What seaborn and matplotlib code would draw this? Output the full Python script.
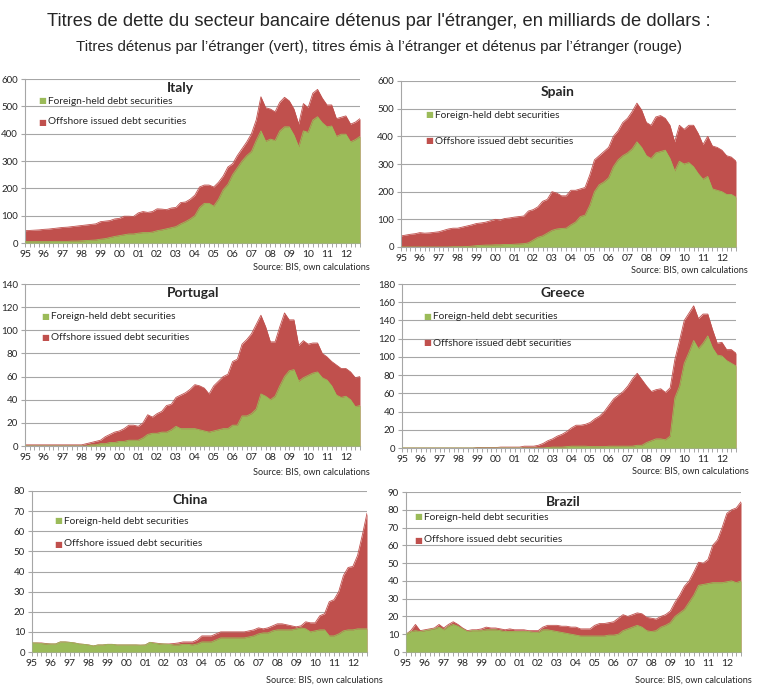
import seaborn as sns
import matplotlib.pyplot as plt
import pandas as pd

# Quarterly data 1995Q1 - 2012Q4, billions of USD
quarters = list(range(72))
year_labels = ["95", "96", "97", "98", "99", "00", "01", "02", "03", "04",
               "05", "06", "07", "08", "09", "10", "11", "12"]

italy_total = [45, 46, 47, 48, 50, 51, 53, 55, 57, 58, 60, 62, 64, 66, 68, 70,
               78, 80, 82, 88, 90, 98, 98, 97, 110, 115, 112, 115, 125, 124, 122, 128,
               130, 148, 150, 160, 175, 205, 212, 212, 205, 222, 245, 278, 290, 320, 345, 370,
               400, 450, 535, 495, 490, 480, 515, 533, 520, 490, 435, 510, 495, 548, 562, 530,
               505, 505, 455, 460, 465, 435, 442, 455]
italy_foreign = [5, 5, 5, 5, 5, 5, 6, 6, 6, 6, 7, 7, 8, 9, 10, 11,
                 14, 16, 20, 24, 27, 30, 33, 33, 36, 38, 38, 40, 45, 48, 52, 56,
                 60, 70, 78, 88, 100, 130, 145, 145, 135, 160, 195, 215, 250, 275, 300, 320,
                 335, 375, 410, 372, 380, 375, 410, 425, 425, 395, 352, 410, 405, 450, 462, 440,
                 425, 428, 390, 398, 398, 370, 378, 390]

spain_total = [40, 43, 46, 48, 52, 50, 51, 53, 55, 60, 65, 68, 68, 72, 76, 80,
               85, 87, 90, 95, 100, 98, 103, 105, 108, 110, 112, 130, 135, 145, 165, 172,
               200, 195, 185, 185, 205, 205, 210, 215, 260, 315, 330, 345, 360, 400, 420, 450,
               465, 490, 520, 495, 450, 440, 470, 475, 465, 440, 380, 440, 425, 440, 440, 410,
               370, 400, 365, 360, 350, 330, 325, 310]
spain_foreign = [0, 0, 0, 0, 0, 0, 0, 0, 0, 0, 0, 1, 1, 1, 2, 3,
                 5, 6, 7, 7, 8, 8, 9, 9, 10, 11, 12, 15, 25, 35, 40, 50,
                 60, 65, 67, 68, 80, 90, 110, 115, 150, 200, 225, 235, 250, 290, 315, 330,
                 340, 355, 380, 360, 330, 320, 340, 345, 350, 320, 275, 310, 300, 305, 290, 265,
                 245, 255, 210, 205, 200, 190, 190, 180]

portugal_total = [1, 1, 1, 1, 1, 1, 1, 1, 1, 1, 1, 1, 1, 2, 3, 4,
                  5, 8, 10, 12, 13, 15, 18, 18, 17, 20, 27, 25, 28, 30, 35, 36,
                  42, 44, 46, 49, 53, 52, 50, 45, 52, 56, 60, 62, 73, 75, 88, 92,
                  97, 105, 113, 103, 90, 90, 103, 115, 109, 109, 87, 91, 88, 89, 89, 80,
                  77, 73, 70, 67, 67, 64, 59, 60]
portugal_foreign = [0, 0, 0, 0, 0, 0, 0, 0, 0, 0, 0, 0, 0, 0, 1, 1,
                    2, 2, 3, 3, 4, 4, 5, 5, 5, 7, 10, 11, 11, 12, 12, 14,
                    17, 15, 15, 15, 15, 14, 13, 12, 13, 14, 15, 15, 18, 18, 26, 26,
                    28, 32, 45, 43, 40, 43, 52, 60, 65, 66, 56, 59, 61, 63, 64, 59,
                    57, 52, 44, 42, 43, 40, 34, 35]

greece_total = [0, 0, 0, 0, 0, 0, 0, 0, 0, 0, 0, 0, 0, 0, 0, 0,
                0.5, 0.5, 0.5, 0.5, 0.5, 1, 1, 1, 1, 1, 2, 2, 2, 3, 5, 8,
                10, 13, 15, 18, 22, 25, 25, 26, 28, 32, 35, 40, 47, 54, 58, 62,
                68, 76, 82, 75, 68, 62, 64, 65, 61, 66, 97, 118, 140, 148, 156, 142,
                147, 147, 130, 115, 116, 108, 108, 104]
greece_foreign = [0, 0, 0, 0, 0, 0, 0, 0, 0, 0, 0, 0, 0, 0, 0, 0,
                  0, 0, 0, 0, 0, 0, 0, 0, 0, 0, 0, 0, 0, 0, 0, 0.5,
                  1, 1, 1, 1.5, 2, 2, 2, 2, 1.5, 1.5, 1.5, 1.5, 2, 2, 2, 2,
                  2, 2, 3, 3, 6, 8, 10, 10, 9, 13, 55, 68, 93, 105, 118, 109,
                  115, 123, 110, 102, 101, 96, 93, 90]

china_total = [4.5, 4.5, 4.5, 4.2, 4, 4, 5, 5, 4.8, 4.5, 4, 3.8, 3.5, 3, 3.5, 3.5,
               3.8, 3.8, 3.5, 3.5, 3.5, 3.5, 3.5, 3.4, 3.5, 4.8, 4.5, 4.2, 4, 4, 4.2, 4.5,
               5, 5, 5, 6, 8, 8, 8, 9, 10, 10, 10, 10, 10, 10, 10.5, 11,
               12, 11.5, 12, 13, 14, 14, 13.5, 13, 12.5, 13, 15, 14.5, 14.5, 18, 19, 25,
               26, 30, 38, 42, 42.5, 48, 58, 69]
china_foreign = [4.5, 4.5, 4.2, 4, 4, 4, 5, 5, 4.8, 4.5, 4, 3.8, 3.5, 3, 3.5, 3.5,
                 3.8, 3.8, 3.5, 3.5, 3.5, 3.5, 3.5, 3.4, 3.5, 4.8, 4.3, 4, 4, 3.8, 3.5, 3.5,
                 3.8, 3.8, 3.5, 4, 5, 5, 5, 6, 7, 7, 7, 7, 7, 7, 7.5, 8,
                 9, 9.5, 9.5, 10.5, 11, 11, 11, 11, 11.5, 12, 11.5, 10, 10.5, 11, 11, 8,
                 8, 9, 10.5, 11, 11, 11.5, 11.5, 11.5]

brazil_total = [10, 12, 15.5, 12, 12.5, 13, 13.5, 15.5, 13.5, 15.5, 17, 15.5, 13.5, 12, 12.5, 12.5,
                13, 14, 13.5, 13.5, 13, 12.5, 13, 12.5, 12.5, 12.5, 12, 12, 12, 14, 15, 15,
                15, 14.5, 14.5, 14, 14, 13, 13, 13, 15, 16, 16, 16.5, 17, 19, 21, 20,
                21, 22, 21.5, 19.5, 19, 18.5, 20, 21, 23, 28, 32, 37, 40, 45, 50.5, 50,
                52, 60, 63, 70, 78, 80, 81, 84.5]
brazil_foreign = [10, 11.5, 12, 11.5, 12, 12.5, 13, 14, 12.5, 14.5, 15.5, 14.5, 13, 11.5, 12, 12,
                  12, 12.5, 12.5, 12.5, 12, 11.5, 11.5, 11.5, 11.5, 11.5, 11.5, 11, 11, 12.5, 12.5, 12,
                  11.5, 11, 10.5, 10, 9.5, 9, 9, 9, 9, 9, 9, 9.5, 9.5, 10, 12, 13,
                  14, 15, 14, 12, 11.5, 12, 14, 15, 16.5, 20, 22, 24, 28, 32, 37.5, 38,
                  38.5, 39, 39, 39, 39.5, 40, 39, 40]

W, H = 758, 687
GREEN = "#9BBB59"
RED = "#C0504D"
GRID = "#A6A6A6"

# name, data, ymax, step, axes box (l, t, r, b) px, title xy, legend xy (green, red), source xy
panels = [
    ("Italy", italy_total, italy_foreign, 600, 100, (25, 79, 360, 243), (180, 88), (42, 101), (42, 122), (370, 267)),
    ("Spain", spain_total, spain_foreign, 600, 100, (401, 81, 736, 247), (558, 92), (429, 115), (429, 141), (748, 270)),
    ("Portugal", portugal_total, portugal_foreign, 140, 20, (25, 284, 360, 446), (193, 293), (45, 317), (45, 337), (370, 472)),
    ("Greece", greece_total, greece_foreign, 180, 20, (402, 284, 736, 448), (563, 293), (427, 317), (427, 343), (749, 471)),
    ("China", china_total, china_foreign, 80, 10, (32, 491, 367, 652), (190, 500), (58, 521), (58, 544), (383, 680)),
    ("Brazil", brazil_total, brazil_foreign, 90, 10, (406, 492, 741, 652), (563, 502), (418, 517), (418, 540), (752, 680)),
]

sns.set_theme(style="white")
plt.rcParams["font.family"] = ["Lato", "DejaVu Sans"]

fig = plt.figure(figsize=(W / 100, H / 100), dpi=100)


def fx(x):
    return x / W


def fy(y):
    return 1 - y / H


for name, total, foreign, ymax, step, box, tpos, gpos, rpos, spos in panels:
    l, t, r, b = box
    ax = fig.add_axes([fx(l), fy(b), (r - l) / W, (b - t) / H])
    df = pd.DataFrame({"q": quarters, "total": total, "foreign": foreign})

    ax.fill_between(df["q"], 0, df["total"], color=RED, lw=0, zorder=2)
    ax.fill_between(df["q"], 0, df["foreign"], color=GREEN, lw=0, zorder=3)
    sns.lineplot(data=df, x="q", y="total", ax=ax, color=RED, lw=0.6, zorder=2)
    sns.lineplot(data=df, x="q", y="foreign", ax=ax, color=GREEN, lw=0.6, zorder=3)

    ax.set_xlim(0, 71)
    ax.set_ylim(0, ymax)
    ax.set_yticks(range(0, ymax + 1, step))
    ax.yaxis.grid(True, color=GRID, lw=0.8, zorder=0)
    ax.set_axisbelow(True)
    ax.set_xticks(range(0, 69, 4))
    ax.set_xticklabels(year_labels)
    ax.set_xticks(range(0, 72), minor=True)
    ax.tick_params(axis="x", which="both", bottom=True, direction="out",
                   length=3, width=0.7, color=GRID, labelsize=7.5, pad=2)
    ax.tick_params(axis="y", left=True, direction="out", length=3, width=0.8,
                   color=GRID, labelsize=7, pad=2)
    ax.set_xlabel("")
    ax.set_ylabel("")
    for side in ["top", "right"]:
        ax.spines[side].set_visible(False)
    for side in ["left", "bottom"]:
        ax.spines[side].set_color(GRID)
        ax.spines[side].set_linewidth(0.8)
    ax.set_facecolor("white")

    fig.text(fx(tpos[0]), fy(tpos[1]), name, ha="center", va="center",
             fontsize=10, fontweight="bold")
    for (px, py), col, lab in [(gpos, GREEN, "Foreign-held debt securities"),
                               (rpos, RED, "Offshore issued debt securities")]:
        fig.text(fx(px), fy(py), "\u25a0", color=col, ha="center", va="center", fontsize=6,
                 family="DejaVu Sans")
        fig.text(fx(px + 6), fy(py), lab, ha="left", va="center", fontsize=7.3)
    fig.text(fx(spos[0]), fy(spos[1]), "Source: BIS, own calculations",
             ha="right", va="center", fontsize=6.6)

fig.text(0.5, fy(22), "Titres de dette du secteur bancaire détenus par l'étranger, en milliards de dollars :",
         ha="center", va="center", fontsize=13.2, family=["Liberation Sans", "DejaVu Sans"])
fig.text(0.5, fy(47), "Titres détenus par l’étranger (vert), titres émis à l’étranger et détenus par l’étranger (rouge)",
         ha="center", va="center", fontsize=10.9, family=["Liberation Sans", "DejaVu Sans"])

fig.savefig("out.png", dpi=100)
